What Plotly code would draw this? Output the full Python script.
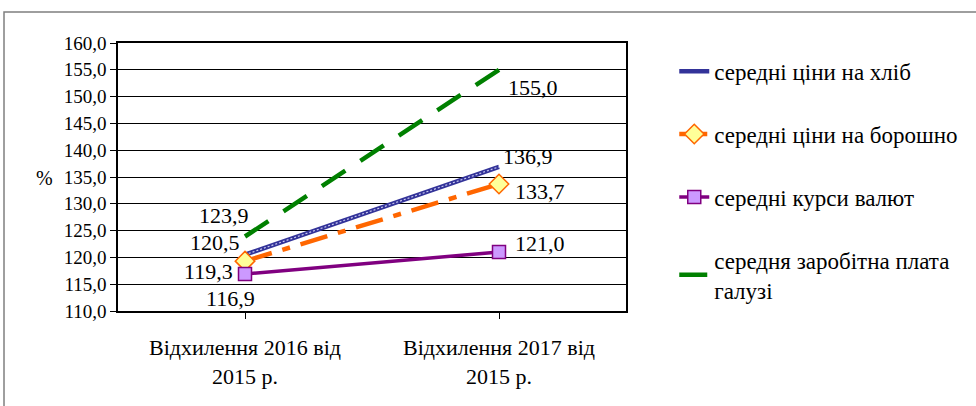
import plotly.graph_objects as go

categories = ["Відхилення 2016 від<br>2015 р.", "Відхилення 2017 від<br>2015 р."]
series_names = ["середні ціни на хліб", "середні ціни на борошно",
                "середні курси валют", "середня заробітна плата<br>галузі"]
bread = [120.5, 136.9]
flour = [119.3, 133.7]
currency = [116.9, 121.0]
wages = [123.9, 155.0]
y_ticks = [110, 115, 120, 125, 130, 135, 140, 145, 150, 155, 160]

FONT = "Liberation Serif, Times New Roman, serif"
x = [0, 1]

fig = go.Figure()
fig.add_trace(go.Scatter(x=x, y=bread, mode="lines", name=series_names[0],
                         legendgroup="a",
                         line=dict(color="#333399", width=4.5)))
fig.add_trace(go.Scatter(x=x, y=bread, mode="lines", showlegend=False,
                         legendgroup="a", hoverinfo="skip",
                         line=dict(color="#c8c8f0", width=1.2, dash="2px,2px")))
fig.add_trace(go.Scatter(x=x, y=flour, mode="lines+markers", name=series_names[1],
                         legendgroup="b",
                         line=dict(color="#ff6600", width=4.5, dash="28px,11px,8px,11px"),
                         marker=dict(symbol="diamond", size=15, color="#ffff99",
                                     line=dict(color="#ff6600", width=1.5))))
fig.add_trace(go.Scatter(x=x, y=currency, mode="lines+markers", name=series_names[2],
                         legendgroup="c",
                         line=dict(color="#800080", width=3.5),
                         marker=dict(symbol="square", size=13, color="#cc99ff",
                                     line=dict(color="#800080", width=1.5))))
fig.add_trace(go.Scatter(x=x, y=wages, mode="lines", name=series_names[3],
                         legendgroup="d",
                         line=dict(color="#008000", width=4.5, dash="28px,18px")))

label_shifts = {
    "wages": [(-21, 21), (34, -18)],
    "bread": [(-30, 12), (29, 10)],
    "flour": [(-37, -10), (41, -8)],
    "currency": [(-15, -24), (41, 9)],
}
for key, vals in [("wages", wages), ("bread", bread), ("flour", flour), ("currency", currency)]:
    for i, v in enumerate(vals):
        dx, dy = label_shifts[key][i]
        fig.add_annotation(x=x[i], y=v, text=f"{v:.1f}".replace(".", ","),
                           showarrow=False, xshift=dx, yshift=dy,
                           font=dict(family=FONT, size=22, color="black"))

fig.add_shape(type="rect", xref="paper", yref="paper",
              x0=-0.2244, x1=1.9, y0=-0.45, y1=1.1157,
              line=dict(color="#7f7f7f", width=1.5), layer="below")

fig.add_annotation(xref="paper", yref="paper", x=-0.165, y=0.495, text="%",
                   showarrow=False, font=dict(family=FONT, size=20, color="black"))

fig.update_layout(
    width=976, height=406,
    margin=dict(l=118, r=350, t=43, b=95),
    paper_bgcolor="white", plot_bgcolor="white",
    font=dict(family=FONT, size=20, color="black"),
    showlegend=True,
    legend=dict(x=1.095, y=0.975, xanchor="left", yanchor="top",
                font=dict(family=FONT, size=23, color="black"),
                tracegroupgap=30, bgcolor="rgba(0,0,0,0)"),
    xaxis=dict(range=[-0.5, 1.5], tickmode="array", tickvals=x, ticktext=categories,
               showgrid=False, zeroline=False, showline=True, linecolor="black",
               linewidth=1.5, ticks="outside", ticklen=6, tickcolor="black",
               tickson="boundaries", mirror=True, automargin=False,
               ticklabelstandoff=10,
               tickfont=dict(family=FONT, size=22)),
    yaxis=dict(range=[110, 160], tickmode="array", tickvals=y_ticks,
               ticktext=[f"{t:.1f}".replace(".", ",") for t in y_ticks],
               showgrid=True, gridcolor="black", gridwidth=1,
               zeroline=False, showline=True, linecolor="black", linewidth=1.5,
               mirror=True, ticks="outside", ticklen=6, tickcolor="black",
               automargin=False,
               tickfont=dict(family=FONT, size=19)),
)

fig.write_html("out.html", post_script="document.body.style.margin='0';",
               config={"displayModeBar": False})
